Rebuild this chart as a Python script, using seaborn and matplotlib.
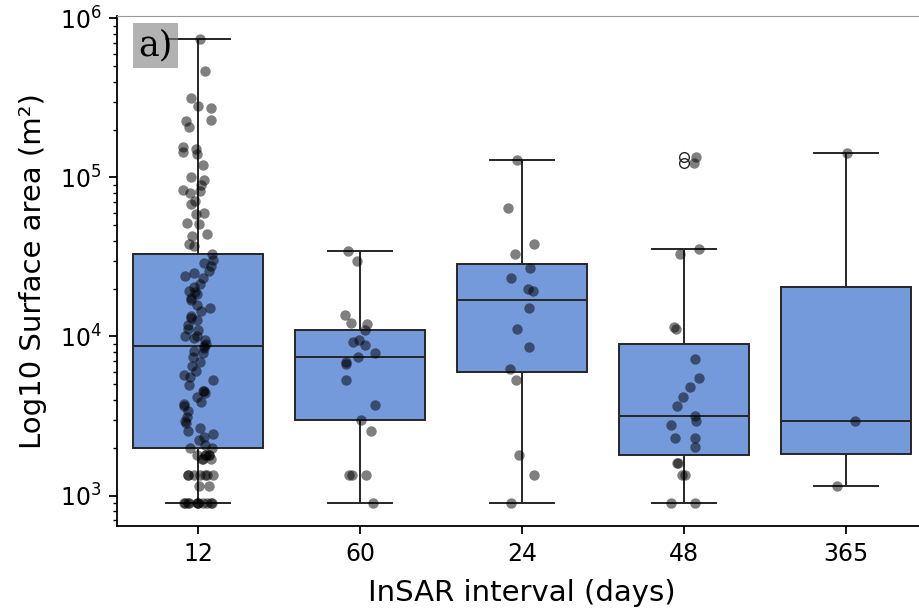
import numpy as np
import pandas as pd
import matplotlib
matplotlib.use("Agg")
import matplotlib.pyplot as plt
import seaborn as sns

# InSAR interval categories (days), in plotting order
intervals = ["12", "60", "24", "48", "365"]

# Surface areas (m²) of mapped features for each interval
area_12 = [
    740000, 464000, 314000, 283000, 275000, 231000, 228000, 209000,
    156000, 150000, 143600, 139600, 120000, 100000, 95700, 89100, 82800,
    81600, 79300, 70600, 67600, 59400, 58500, 52000, 50600, 44400, 43100,
    38400, 36800, 32800,
    30060, 28780, 27560, 25640, 25000, 24000, 23170, 21240, 20500, 19190,
    18920, 18500, 17500, 16840, 15670, 15000, 14370, 13500, 12980, 12610,
    11890, 11200, 10910, 10140, 10000, 9800, 9440, 9000, 8770, 8410, 8050,
    7930, 7480, 6960, 6480, 6110, 5690, 5600, 5290, 4990, 4570, 4510, 4440,
    4190, 3900, 3790, 3630, 3420, 3140, 2960, 2840, 2640, 2530, 2420, 2320,
    2220, 2090,
    1980, 1980, 1800, 1800, 1800, 1800, 1800, 1700, 1700, 1700,
    1350, 1350, 1350, 1350, 1350, 1350, 1350, 1140, 1140,
    900, 900, 900, 900, 900, 900, 900, 900, 900, 900, 900,
]
area_60 = [
    34400, 29760, 13610, 12070, 11900, 10960, 9480, 9170, 8780, 7820, 7480,
    6960, 6700, 5310, 3700, 2980, 2530, 1350, 1350, 1350, 900,
]
area_24 = [
    128000, 64450, 37900, 32800, 27040, 23390, 19840, 19270, 15000, 11110,
    8610, 6220, 5310, 1800, 1350, 900,
]
area_48 = [
    134900, 122500, 35400, 32800, 11510, 11220, 7270, 5500, 4830, 4180,
    3660, 3170, 2930, 2770, 2310, 2310, 2020, 1600, 1600, 1350, 1350,
    900, 900,
]
area_365 = [142000, 2950, 1140]

groups = [area_12, area_60, area_24, area_48, area_365]
df = pd.DataFrame({
    "interval": np.concatenate([[lab] * len(g) for lab, g in zip(intervals, groups)]),
    "area": np.concatenate([np.asarray(g, dtype=float) for g in groups]),
})

np.random.seed(3)

fig = plt.figure(figsize=(9.19, 6.11), dpi=100)
ax = fig.add_axes([117 / 919, 85 / 611, 810 / 919, 510 / 611])

sns.boxplot(
    data=df, x="interval", y="area", order=intervals,
    color="cornflowerblue", log_scale=True, fliersize=7,
    linewidth=1.4, linecolor="0.15", ax=ax,
)
sns.stripplot(
    data=df, x="interval", y="area", order=intervals,
    color="black", alpha=0.5, size=7.5, jitter=True, ax=ax,
)

ax.set_xlabel("InSAR interval (days)", fontsize=21, labelpad=10)
ax.set_ylabel("Log10 Surface area (m²)", fontsize=21, labelpad=9)
ax.tick_params(axis="both", which="major", labelsize=17,
               length=5.6, width=1.3, pad=5.6)
ax.tick_params(axis="both", which="minor", length=3.2, width=1.0)
for side in ("left", "bottom"):
    ax.spines[side].set_linewidth(1.3)
for side in ("top", "right"):
    ax.spines[side].set_linewidth(0.8)
    ax.spines[side].set_color("0.6")

ax.text(
    0.026, 0.976, "a)", transform=ax.transAxes, ha="left", va="top",
    fontsize=25, family="DejaVu Serif",
    bbox=dict(facecolor="gray", alpha=0.6, edgecolor="none"),
)

fig.savefig("out.png", dpi=100)
